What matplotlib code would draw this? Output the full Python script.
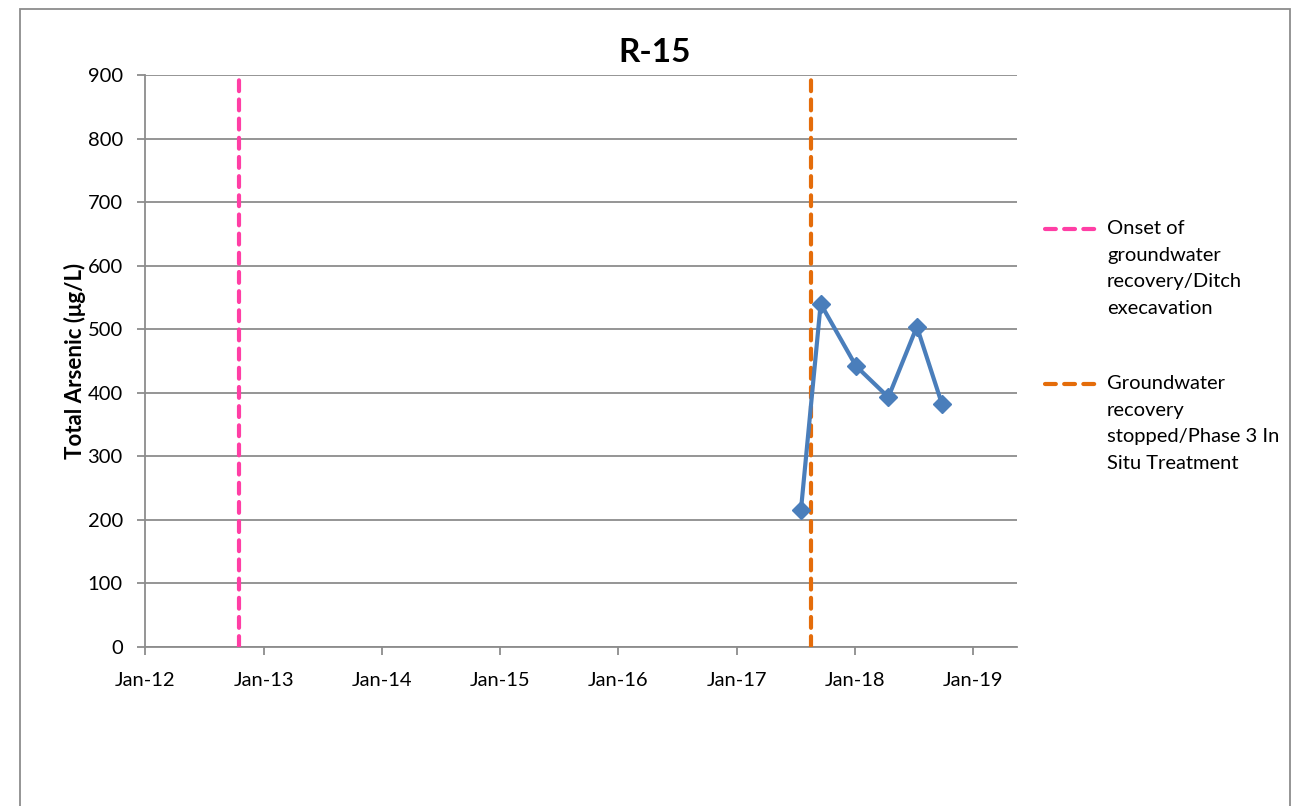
import pandas as pd
import matplotlib.pyplot as plt
import matplotlib.dates as mdates
from matplotlib.lines import Line2D
from matplotlib.patches import Rectangle

# sample data
dates = pd.to_datetime(['2017-07-18', '2017-09-17', '2018-01-04',
                        '2018-04-14', '2018-07-11', '2018-09-26'])
arsenic = [215, 540, 442, 393, 504, 383]

# event markers
event_dates = pd.to_datetime(['2012-10-18', '2017-08-17'])
event_labels = ['Onset of\ngroundwater\nrecovery/Ditch\nexecavation',
                'Groundwater\nrecovery\nstopped/Phase 3 In\nSitu Treatment']
event_colors = ['#FF3EA5', '#E46C0A']

plt.rcParams['font.family'] = ['Lato', 'DejaVu Sans']
grey = '#8C8C8C'

fig = plt.figure(figsize=(12.94, 8.06), dpi=100)
ax = fig.add_axes([0.1121, 0.1973, 0.6738, 0.7097])

# outer chart border (bottom edge falls off the image, as in the original)
fig.add_artist(Rectangle((20 / 1294, -0.02), 1270 / 1294, 1 - 9 / 806 + 0.02,
                         transform=fig.transFigure, fill=False,
                         edgecolor=grey, linewidth=1.3))

for d, c in zip(event_dates, event_colors):
    ax.axvline(d, color=c, linewidth=3, dashes=(2.6, 2.0),
               dash_capstyle='round', zorder=3)

ax.plot(dates, arsenic, color='#4A7EBB', linewidth=3, marker='D',
        markersize=9, zorder=4)

ax.set_ylim(0, 900)
ax.set_yticks(range(0, 901, 100))
ax.set_xlim(pd.Timestamp('2012-01-01'), pd.Timestamp('2019-05-16'))
ax.xaxis.set_major_locator(mdates.YearLocator())
ax.xaxis.set_major_formatter(mdates.DateFormatter('%b-%y'))

ax.grid(axis='y', color=grey, linewidth=1.3)
ax.set_axisbelow(True)
for s in ['top', 'right']:
    ax.spines[s].set_visible(False)
for s in ['left', 'bottom']:
    ax.spines[s].set_color(grey)
    ax.spines[s].set_linewidth(1.3)
ax.tick_params(axis='both', colors=grey, labelcolor='black', labelsize=14.5,
               length=6, width=1.3)
ax.tick_params(axis='x', pad=12)
ax.tick_params(axis='y', pad=10)

ax.set_ylabel('Total Arsenic (\u03bcg/L)', fontsize=16, fontweight='bold',
              labelpad=1)
fig.text(655 / 1294, 1 - 52 / 806, 'R-15', fontsize=24, fontweight='bold',
         ha='center', va='center')

# legend drawn by hand so the handle sits on the first text line
for lab, c, y in zip(event_labels, event_colors, [229, 384]):
    fy = 1 - y / 806
    fig.add_artist(Line2D([1045 / 1294, 1095 / 1294], [fy, fy], color=c,
                          linewidth=3, dashes=(2.6, 2.0),
                          dash_capstyle='round', transform=fig.transFigure))
    fig.text(1107 / 1294, fy + 9 / 806, lab, fontsize=14.5, ha='left',
             va='top', linespacing=1.68)

plt.savefig('out.png', dpi=100)
